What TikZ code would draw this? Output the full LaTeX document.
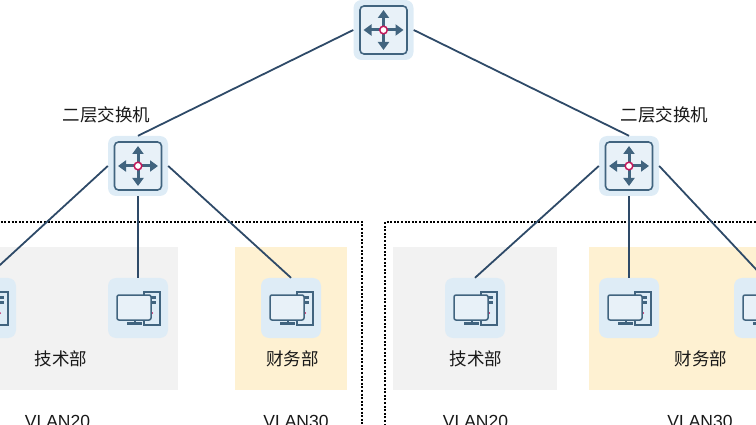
\documentclass[tikz,border=0pt]{standalone}
\usepackage{fontspec}
\setmainfont{Liberation Sans}
\newfontfamily\cjk{Noto Sans CJK SC}
\usetikzlibrary{arrows.meta}
\definecolor{tile}{HTML}{DEECF6}
\definecolor{inner}{HTML}{E8F1F8}
\definecolor{icon}{HTML}{41647F}
\definecolor{wire}{HTML}{2E4A68}
\definecolor{grayzone}{HTML}{F2F2F2}
\definecolor{yellowzone}{HTML}{FEF1D2}
\definecolor{hub}{HTML}{C2185B}
\tikzset{
    swarrow/.style={
    icon,line width=3pt,-{Triangle[width=11pt,length=8pt]}
    },
    swicon/.style={
    rectangle,rounded corners=8pt,fill=tile,minimum size=60pt,inner sep=0pt,
    path picture={
      \begin{scope}[shift={(path picture bounding box.center)},sharp corners]
        \draw[icon,fill=inner,line width=1.6pt,rounded corners=4pt] (-23.5,-24) rectangle (23.5,24);
        \draw[swarrow] (0,0) -- (20,0);
        \draw[swarrow] (0,0) -- (-20,0);
        \draw[swarrow] (0,0) -- (0,20);
        \draw[swarrow] (0,0) -- (0,-20);
        \draw[hub,fill=white,line width=1.5pt] (0,0) circle (3.8);
      \end{scope}
      }
    },
    pcicon/.style={
    rectangle,rounded corners=8pt,fill=tile,minimum size=60pt,inner sep=0pt,
    path picture={
      \begin{scope}[shift={(path picture bounding box.center)},sharp corners]
        \draw[icon,line width=1.5pt,fill=tile] (6,-16) rectangle (22,17);
        \fill[icon] (13,-12) rectangle (18,-9);
        \fill[icon] (13,-7) rectangle (18,-4);
        \fill[hub] (14,5) circle (1);
        \draw[icon,line width=1.5pt,fill=inner,rounded corners=2pt] (-21,-13) rectangle (13,12);
        \draw[icon,line width=1.5pt] (-3,12) -- (-3,15);
        \draw[icon,line width=2.2pt] (-11,15.5) -- (4,15.5);
      \end{scope}
      }
    },
    boundary/.style={
    black,line width=1.1pt,dash pattern=on 2pt off 1.6pt
    },
    link/.style={
    wire,line width=1.8pt
    },
    dept/.style={
    font=\cjk\fontsize{17.5}{20}\selectfont,text=black!90,inner sep=0pt
    },
    vlan/.style={
    font=\fontsize{17.5}{20}\selectfont,text=black!90,inner sep=0pt
    },
}
\begin{document}
\begin{tikzpicture}[x=1pt,y=-1pt]
   \path[use as bounding box,clip] (0,0) rectangle (756,425);

   \fill[grayzone] (-10,247) rectangle (178,390);
   \fill[yellowzone] (235,247) rectangle (347,390);
   \fill[grayzone] (393,247) rectangle (557,390);
   \fill[yellowzone] (589,247) rectangle (770,390);

   \draw[boundary] (-10,222) -- (362,222) -- (362,440);
   \draw[boundary] (385,440) -- (385,222) -- (770,222);

   \node[swicon] (core) at (383.5,30) {};
   \node[swicon] (swl) at (138,166) {};
   \node[swicon] (swr) at (629,166) {};

   \node[pcicon] (pca) at (-14,308) {};
   \node[pcicon] (pcb) at (138,308) {};
   \node[pcicon] (pcc) at (291,308) {};
   \node[pcicon] (pcd) at (475,308) {};
   \node[pcicon] (pce) at (629,308) {};
   \node[pcicon] (pcf) at (764,308) {};

   \node[dept] (swltext) at (106.5,115) {二层交换机};
   \node[dept] (swrtext) at (664.5,115) {二层交换机};
   \node[dept] (techa) at (61,359) {技术部};
   \node[dept] (fina) at (292.5,359) {财务部};
   \node[dept] (techb) at (476,359) {技术部};
   \node[dept] (finb) at (701,359) {财务部};

   \node[vlan] (vlana) at (57.5,421) {VLAN20};
   \node[vlan] (vlanb) at (296,421) {VLAN30};
   \node[vlan] (vlanc) at (475.5,421) {VLAN20};
   \node[vlan] (vland) at (700,421) {VLAN30};

  \path[link]
    (core.west) edge (swl.north)
    (core.east) edge (swr.north)
    (swl.west) edge (pca.north)
    (swl.south) edge (pcb.north)
    (swl.east) edge (pcc.north)
    (swr.west) edge (pcd.north)
    (swr.south) edge (pce.north)
    (swr.east) edge (pcf.north);
\end{tikzpicture}
\end{document}
